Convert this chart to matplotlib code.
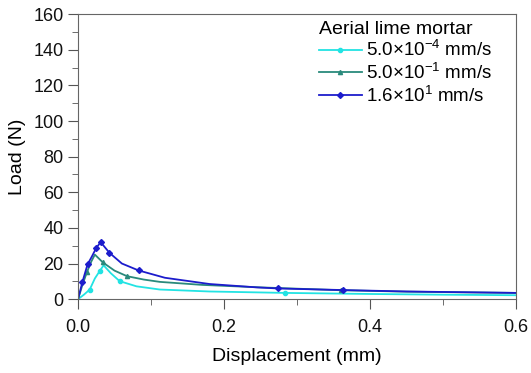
import matplotlib.pyplot as plt
from matplotlib.ticker import MultipleLocator

plt.rcParams['font.family'] = ['Liberation Sans', 'DejaVu Sans']
plt.rcParams['mathtext.fontset'] = 'custom'
plt.rcParams['mathtext.rm'] = 'Liberation Sans'

# displacement (mm) / load (N)
x_slow = [0.0, 0.008, 0.016, 0.023, 0.030, 0.035, 0.045, 0.057, 0.08, 0.112, 0.18, 0.284, 0.4, 0.5, 0.6]
y_slow = [0.0, 2.5, 5.4, 11.6, 16.0, 19.0, 14.5, 10.1, 7.2, 5.4, 4.3, 3.5, 2.9, 2.5, 2.2]
mk_slow = [2, 4, 7, 11]

x_mid = [0.0, 0.006, 0.012, 0.018, 0.023, 0.034, 0.05, 0.067, 0.09, 0.112, 0.17, 0.25, 0.36, 0.45, 0.6]
y_mid = [0.0, 8.0, 15.0, 21.0, 25.0, 20.6, 16.0, 12.9, 11.0, 9.7, 8.0, 6.6, 5.0, 4.2, 3.5]
mk_mid = [2, 5, 7, 12]

x_fast = [0.0, 0.006, 0.013, 0.019, 0.025, 0.031, 0.043, 0.06, 0.083, 0.119, 0.18, 0.245, 0.274, 0.363, 0.45, 0.6]
y_fast = [0.0, 9.7, 19.5, 24.0, 28.8, 32.0, 26.0, 20.0, 16.1, 12.0, 8.5, 6.6, 6.0, 5.1, 4.3, 3.5]
mk_fast = [1, 2, 4, 5, 6, 8, 12, 13]

labels = [r'5.0$\times$10$^{\mathregular{-4}}$ mm/s',
          r'5.0$\times$10$^{\mathregular{-1}}$ mm/s',
          r'1.6$\times$10$^{\mathregular{1}}$ mm/s']

fig = plt.figure(figsize=(5.31, 3.73), dpi=100)
ax = fig.add_axes([0.147, 0.198, 0.825, 0.764])

ax.plot(x_slow, y_slow, color='#22e3e3', lw=1.3, marker='o', ms=3, markevery=mk_slow, label=labels[0])
ax.plot(x_mid, y_mid, color='#2a8a7c', lw=1.3, marker='^', ms=3, markevery=mk_mid, label=labels[1])
ax.plot(x_fast, y_fast, color='#1c1ccc', lw=1.3, marker='D', ms=3, markevery=mk_fast, label=labels[2])

ax.set_xlim(0, 0.6)
ax.set_ylim(0, 160)
ax.xaxis.set_major_locator(MultipleLocator(0.2))
ax.xaxis.set_minor_locator(MultipleLocator(0.1))
ax.yaxis.set_major_locator(MultipleLocator(20))
ax.yaxis.set_minor_locator(MultipleLocator(10))
ax.xaxis.set_major_formatter(plt.FormatStrFormatter('%.1f'))
ax.tick_params(which='both', direction='out', labelsize=13, color='#555555', labelcolor='#111111')
ax.tick_params(which='major', length=7)
ax.tick_params(axis='x', which='major', pad=7)
ax.tick_params(which='minor', length=4)
for s in ax.spines.values():
    s.set_color('#666666')

ax.set_xlabel('Displacement (mm)', fontsize=14, labelpad=9)
ax.set_ylabel('Load (N)', fontsize=14, labelpad=5)

leg = ax.legend(title='Aerial lime mortar', frameon=False, loc='upper right',
                bbox_to_anchor=(0.965, 1.01),
                fontsize=13.5, title_fontsize=14, handlelength=2.3, handletextpad=0.2,
                borderaxespad=0.1, labelspacing=0.1)
leg._legend_box.align = 'left'

fig.savefig('out.png', dpi=100)
